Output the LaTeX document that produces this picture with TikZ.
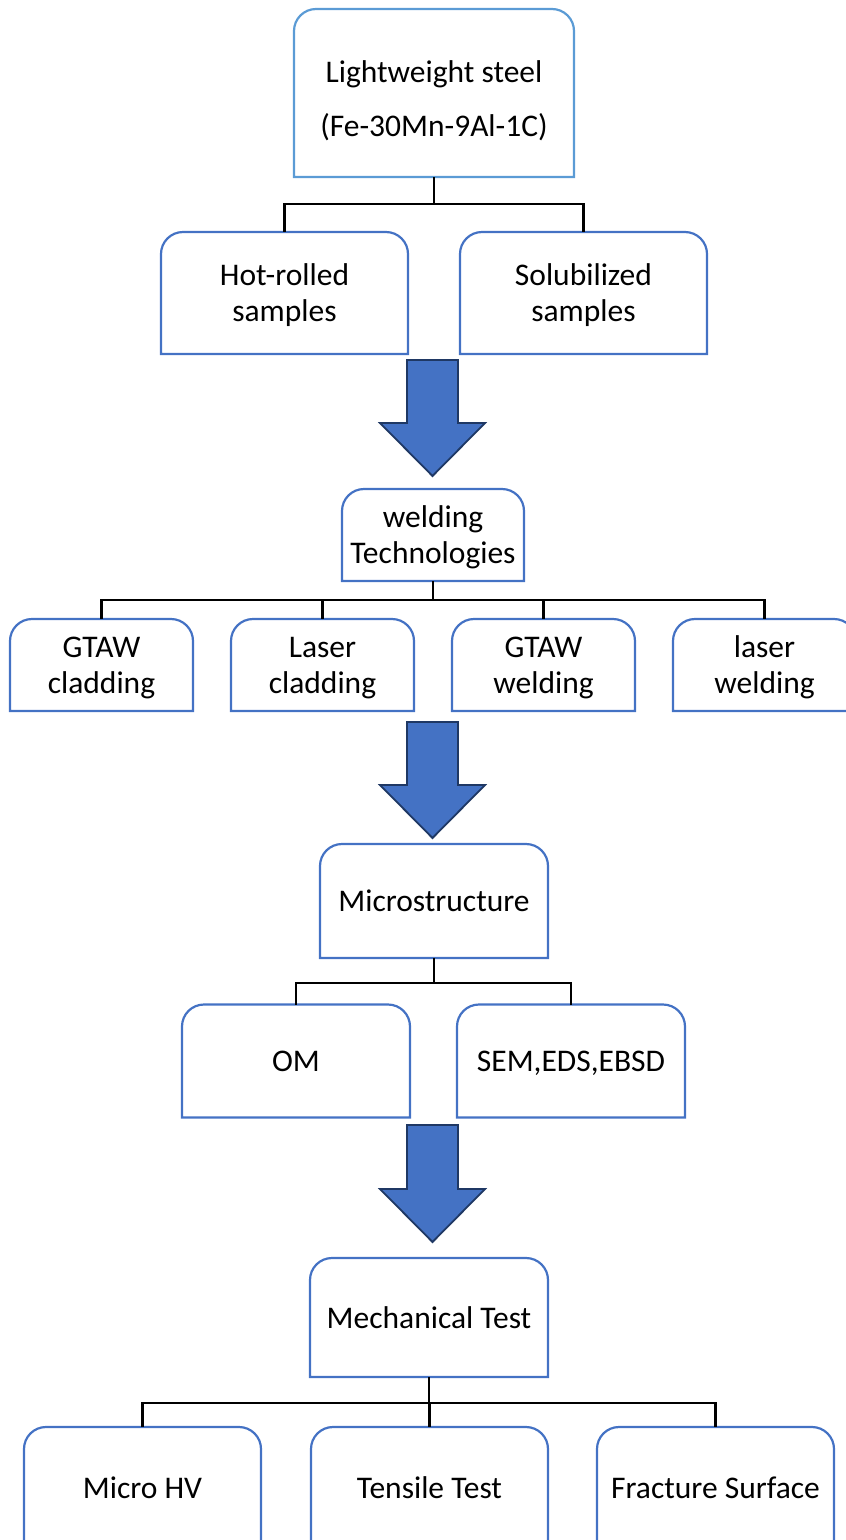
\documentclass[tikz,border=0pt]{standalone}
\usepackage{fontspec}
\setmainfont{Carlito}
\definecolor{topblue}{HTML}{5B9BD5}
\definecolor{boxblue}{HTML}{4472C4}
\definecolor{arrowrim}{HTML}{1F3864}
\tikzset{tbox/.style={
  align=center, inner sep=0pt, outer sep=0pt, text depth=0pt,
  font=\fontsize{31.5}{36}\selectfont
}}
\tikzset{tline/.style={
  draw=boxblue, line width=2.2pt, line join=miter
}}
\tikzset{tree/.style={line width=2.4pt}}
\tikzset{bigarrow/.style={
  fill=boxblue, draw=arrowrim, line width=1.8pt, line join=miter
}}

\begin{document}
\begin{tikzpicture}[x=1pt,y=-1pt]
    \useasboundingbox (0,0) rectangle (846,1540);
    \clip (0,0) rectangle (846,1540);
    % boxes
    \node[tbox,minimum width=280,minimum height=168,text height=86pt,
      font=\fontsize{31.5}{54}\selectfont] (steel) at (434,93)
      {Lightweight steel\\(Fe-30Mn-9Al-1C)};
    \node[tbox,minimum width=247,minimum height=122] (hot) at (284.5,293) {Hot-rolled\\samples};
    \node[tbox,minimum width=247,minimum height=122] (sol) at (583.5,293) {Solubilized\\samples};
    \node[tbox,minimum width=182,minimum height=92] (weld) at (433,535) {welding\\Technologies};
    \node[tbox,minimum width=183,minimum height=92] (gc) at (101.5,665) {GTAW\\cladding};
    \node[tbox,minimum width=183,minimum height=92] (lc) at (322.5,665) {Laser\\cladding};
    \node[tbox,minimum width=183,minimum height=92] (gw) at (543.5,665) {GTAW\\welding};
    \node[tbox,minimum width=183,minimum height=92] (lw) at (764.5,665) {laser\\welding};
    \node[tbox,minimum width=228,minimum height=114] (micro) at (434,901) {Microstructure};
    \node[tbox,minimum width=228,minimum height=113] (om) at (296,1061) {OM};
    \node[tbox,minimum width=228,minimum height=113] (sem) at (571,1061) {SEM,EDS,EBSD};
    \node[tbox,minimum width=238,minimum height=119] (mech) at (429,1317.5) {Mechanical Test};
    \node[tbox,minimum width=237,minimum height=122] (hv) at (142.5,1488) {Micro HV};
    \node[tbox,minimum width=237,minimum height=122] (tens) at (429.5,1488) {Tensile Test};
    \node[tbox,minimum width=237,minimum height=122] (frac) at (715.5,1488) {Fracture Surface};
    % outlines, round on top only
    \draw[tline,draw=topblue] (steel.south west) [rounded corners=22pt] -- (steel.north west)
      -- (steel.north east) [sharp corners] -- (steel.south east) -- cycle;
    \foreach \n in {hot,sol,weld,gc,lc,gw,lw,micro,om,sem,mech,hv,tens,frac}
      \draw[tline] (\n.south west) [rounded corners=22pt] -- (\n.north west)
        -- (\n.north east) [sharp corners] -- (\n.south east) -- cycle;
    % tree lines
    \coordinate (j1) at ([yshift=-27pt]steel.south);
    \coordinate (j2) at ([yshift=-19pt]weld.south);
    \coordinate (j3) at ([yshift=-25pt]micro.south);
    \coordinate (j4) at ([yshift=-26pt]mech.south);
    \draw[tree] (steel.south) -- (j1);
    \draw[tree] (j1) -| (hot.north);
    \draw[tree] (j1) -| (sol.north);
    \draw[tree] (weld.south) -- (j2);
    \foreach \n in {gc,lc,gw,lw}
      \draw[tree] (j2) -| (\n.north);
    \draw[tree] (micro.south) -- (j3);
    \draw[tree] (j3) -| (om.north);
    \draw[tree] (j3) -| (sem.north);
    \draw[tree] (mech.south) -- (j4);
    \foreach \n in {hv,tens,frac}
      \draw[tree] (j4) -| (\n.north);
    % block arrows
    \foreach \y/\s/\t in {360/63/116,722/63/116,1125/64/117}
      \draw[bigarrow] (407,\y) -- (458,\y) -- (458,\y+\s) -- (485,\y+\s)
        -- (432.5,\y+\t) -- (380,\y+\s) -- (407,\y+\s) -- cycle;
\end{tikzpicture}
\end{document}
